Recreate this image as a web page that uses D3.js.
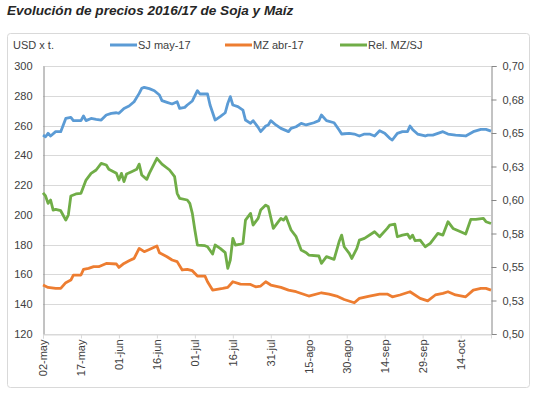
<!DOCTYPE html>
<html>
<head>
<meta charset="utf-8">
<script src="https://cdn.jsdelivr.net/npm/d3@7"></script>
<style>
  body { margin: 0; background: #fff; }
  text { font-family: "Liberation Sans", Arial, sans-serif; fill: #404040; }
</style>
</head>
<body>
<div id="chart"></div>
<script>
// SJ may-17 (USD x t.)
const sjDates = ["05-02","05-03","05-04","05-05","05-07","05-09","05-11","05-13","05-14","05-17","05-18","05-19","05-21","05-23","05-25","05-27","05-29","05-31","06-01","06-03","06-05","06-07","06-09","06-10","06-11","06-13","06-15","06-17","06-18","06-20","06-22","06-24","06-25","06-27","06-28","06-30","07-02","07-03","07-06","07-07","07-09","07-11","07-13","07-14","07-15","07-16","07-18","07-20","07-21","07-23","07-24","07-26","07-27","07-29","07-30","07-31","08-02","08-04","08-07","08-08","08-10","08-12","08-14","08-17","08-19","08-20","08-22","08-25","08-27","08-28","08-29","08-31","09-02","09-04","09-06","09-08","09-10","09-12","09-14","09-16","09-17","09-19","09-21","09-23","09-24","09-25","09-27","09-30","10-01","10-03","10-07","10-09","10-12","10-16","10-19","10-22","10-24","10-26"];
const sjValues = [253.6,252.5,254.8,253,255.9,255.9,264.8,265.5,263.3,263.3,266.4,263.3,264.8,264.2,263.7,267.1,268.2,268.6,268.2,271.5,273.1,276,281.6,285,285.7,284.8,283.4,280.5,276.7,275.6,274.5,276,271.5,272.2,273.8,276.5,283.4,281.2,281.2,273.8,263.7,266,268.6,274.9,279.4,273.8,272.7,270.4,263.7,261.5,263.3,258.8,255.9,259.7,260.4,263.3,260.4,258.1,255.9,258.1,259.2,261.5,260.4,261.9,263.3,267.1,263.3,261.9,257,254.3,254.5,254.8,254.3,253,254.3,254.3,253,256.5,254.8,251.4,250.3,254.8,255.9,255.9,259.7,257.4,254.3,253,253.6,253.6,255.9,254.3,253.6,253,255.9,257.4,257.4,256.3];

// MZ abr-17 (USD x t.)
const mzDates = ["05-02","05-04","05-07","05-09","05-11","05-13","05-14","05-17","05-18","05-20","05-22","05-24","05-27","05-31","06-01","06-03","06-05","06-07","06-09","06-11","06-13","06-16","06-17","06-20","06-22","06-24","06-26","06-28","06-30","07-02","07-05","07-06","07-08","07-12","07-14","07-16","07-19","07-23","07-25","07-27","07-29","07-31","08-04","08-07","08-10","08-15","08-20","08-23","08-26","08-29","09-02","09-04","09-08","09-12","09-15","09-17","09-20","09-24","09-28","10-01","10-04","10-07","10-09","10-12","10-16","10-19","10-22","10-24","10-26"];
const mzValues = [152.9,151.3,150.6,150.6,154.5,156.2,159.6,159.6,163.4,164.1,165.2,165.2,167.4,167,164.7,167.4,169.2,170.8,177.5,175.3,176.8,179.1,174.6,171.9,169.7,168.6,163,163.4,162.5,158.9,158.9,155.1,149.5,150.6,151.3,155.1,153.5,153.3,151.7,152.2,155.1,152.9,151.3,149.5,148.4,145.5,147.7,146.8,145.5,143.2,141,143.9,145.5,146.8,146.8,145,146.2,148.4,143.9,142.3,146.2,147.3,148.4,146.2,145,149.5,150.6,150.6,149.5];

// Rel. MZ/SJ (eje derecho)
const relDates = ["05-02","05-03","05-04","05-05","05-06","05-07","05-09","05-11","05-12","05-13","05-15","05-17","05-19","05-21","05-23","05-25","05-27","05-28","05-31","06-01","06-02","06-03","06-04","06-06","06-08","06-09","06-10","06-12","06-13","06-16","06-18","06-21","06-23","06-24","06-25","06-28","06-29","06-30","07-01","07-02","07-05","07-06","07-08","07-09","07-11","07-13","07-14","07-15","07-16","07-17","07-19","07-20","07-21","07-23","07-24","07-26","07-27","07-29","07-30","08-01","08-03","08-04","08-05","08-06","08-08","08-10","08-12","08-14","08-15","08-19","08-20","08-22","08-25","08-27","08-28","08-29","08-31","09-01","09-03","09-04","09-06","09-10","09-12","09-15","09-16","09-18","09-19","09-21","09-23","09-24","09-25","09-26","09-28","09-30","10-02","10-05","10-07","10-09","10-11","10-14","10-16","10-18","10-20","10-23","10-24","10-26"];
const relValues = [0.6054,0.6030,0.5975,0.6000,0.5925,0.5930,0.5920,0.5850,0.5888,0.6030,0.6045,0.6050,0.6149,0.6199,0.6224,0.6273,0.6261,0.6229,0.6199,0.6149,0.6199,0.6137,0.6194,0.6211,0.6229,0.6268,0.6187,0.6154,0.6199,0.6311,0.6268,0.6224,0.6174,0.6050,0.6012,0.6000,0.5975,0.5900,0.5776,0.5664,0.5659,0.5651,0.5597,0.5664,0.5639,0.5607,0.5490,0.5552,0.5714,0.5664,0.5671,0.5676,0.5850,0.5900,0.5813,0.5863,0.5925,0.5962,0.5950,0.5788,0.5838,0.5863,0.5850,0.5875,0.5776,0.5726,0.5627,0.5607,0.5589,0.5582,0.5527,0.5577,0.5557,0.5690,0.5738,0.5651,0.5602,0.5564,0.5639,0.5701,0.5714,0.5763,0.5726,0.5788,0.5813,0.5820,0.5726,0.5738,0.5746,0.5714,0.5738,0.5696,0.5701,0.5651,0.5676,0.5751,0.5738,0.5838,0.5788,0.5763,0.5746,0.5855,0.5855,0.5863,0.5838,0.5825];

// Axis ticks
const xTickDates = ["05-02","05-17","06-01","06-16","07-01","07-16","07-31","08-15","08-30","09-14","09-29","10-14"];
const xTickLabels = ["02-may","17-may","01-jun","16-jun","01-jul","16-jul","31-jul","15-ago","30-ago","14-sep","29-sep","14-oct"];
const leftTicks = [120,140,160,180,200,220,240,260,280,300];
const rightTicks = [0.50,0.525,0.55,0.575,0.60,0.625,0.65,0.675,0.70];
const rightTickLabels = ["0,50","0,53","0,55","0,58","0,60","0,63","0,65","0,68","0,70"];

const parseDate = s => d3.timeParse("%Y-%m-%d")("2016-" + s);

const width = 537, height = 396;
const plot = { left: 43, right: 491, top: 66, bottom: 334 };

const svg = d3.select("#chart")
    .append("svg")
    .attr("width", width)
    .attr("height", height);

// Chart border
svg.append("rect")
    .attr("x", 7.5).attr("y", 33.5)
    .attr("width", 522).attr("height", 354)
    .attr("rx", 3)
    .attr("fill", "#fff")
    .attr("stroke", "#d9d9d9");

// Title
svg.append("text")
    .attr("x", 7).attr("y", 15)
    .style("font-size", "13.6px")
    .style("font-weight", "bold")
    .style("font-style", "italic")
    .style("fill", "#262626")
    .text("Evolución de precios 2016/17 de Soja y Maíz");

// Scales
const xScale = d3.scaleTime()
    .domain([parseDate("05-02"), parseDate("10-26")])
    .range([plot.left, plot.right]);

const yLeft = d3.scaleLinear()
    .domain([120, 300])
    .range([plot.bottom, plot.top]);

const yRight = d3.scaleLinear()
    .domain([0.50, 0.70])
    .range([plot.bottom, plot.top]);

// Gridlines
svg.append("g")
    .selectAll("line")
    .data(leftTicks)
    .enter()
    .append("line")
    .attr("x1", plot.left).attr("x2", plot.right)
    .attr("y1", d => Math.round(yLeft(d)) + 0.5)
    .attr("y2", d => Math.round(yLeft(d)) + 0.5)
    .attr("stroke", "#d9d9d9");

// Left axis
const leftAxis = svg.append("g")
    .attr("transform", `translate(${plot.left + 0.5},0)`)
    .call(d3.axisLeft(yLeft).tickValues(leftTicks).tickSize(0).tickPadding(11));
leftAxis.select(".domain").attr("stroke", "#868686");
leftAxis.selectAll("text").style("font-size", "11px").style("fill", "#404040");

// Right axis
const rightAxis = svg.append("g")
    .attr("transform", `translate(${plot.right + 0.5},0)`)
    .call(d3.axisRight(yRight).tickValues(rightTicks).tickSize(5).tickPadding(6)
        .tickFormat((d, i) => rightTickLabels[i]));
rightAxis.select(".domain").attr("stroke", "#868686");
rightAxis.selectAll(".tick line").attr("stroke", "#868686");
rightAxis.selectAll("text").style("font-size", "11px").style("fill", "#404040");

// Bottom axis
const bottomAxis = svg.append("g")
    .attr("transform", `translate(0,${plot.bottom + 0.5})`)
    .call(d3.axisBottom(xScale)
        .tickValues(xTickDates.map(parseDate))
        .tickSize(4)
        .tickFormat((d, i) => xTickLabels[i]));
bottomAxis.select(".domain").attr("stroke", "#d9d9d9");
bottomAxis.selectAll(".tick line").attr("stroke", "#d9d9d9");
bottomAxis.selectAll("text")
    .style("font-size", "11px")
    .style("fill", "#404040")
    .style("text-anchor", "end")
    .attr("transform", "rotate(-90)")
    .attr("x", -5)
    .attr("y", 0)
    .attr("dy", "0.35em");

// Lines
const series = [
    { dates: sjDates, values: sjValues, y: yLeft, color: "#5b9bd5" },
    { dates: mzDates, values: mzValues, y: yLeft, color: "#ed7d31" },
    { dates: relDates, values: relValues, y: yRight, color: "#70ad47" }
];

series.forEach(s => {
    const pts = s.dates.map((d, i) => [parseDate(d), s.values[i]]);
    svg.append("path")
        .datum(pts)
        .attr("fill", "none")
        .attr("stroke", s.color)
        .attr("stroke-width", 2.8)
        .attr("stroke-linejoin", "round")
        .attr("d", d3.line()
            .x(d => xScale(d[0]))
            .y(d => s.y(d[1]))
        );
});

// Legend
const legend = svg.append("g").style("font-size", "11px");
legend.append("text").attr("x", 13).attr("y", 49).text("USD x t.");

const legendItems = [
    { label: "SJ may-17", color: "#5b9bd5", x: 110 },
    { label: "MZ abr-17", color: "#ed7d31", x: 225 },
    { label: "Rel. MZ/SJ", color: "#70ad47", x: 340 }
];
legendItems.forEach(d => {
    legend.append("line")
        .attr("x1", d.x).attr("x2", d.x + 27)
        .attr("y1", 45).attr("y2", 45)
        .attr("stroke", d.color)
        .attr("stroke-width", 3);
    legend.append("text")
        .attr("x", d.x + 28).attr("y", 49)
        .text(d.label);
});
</script>
</body>
</html>
